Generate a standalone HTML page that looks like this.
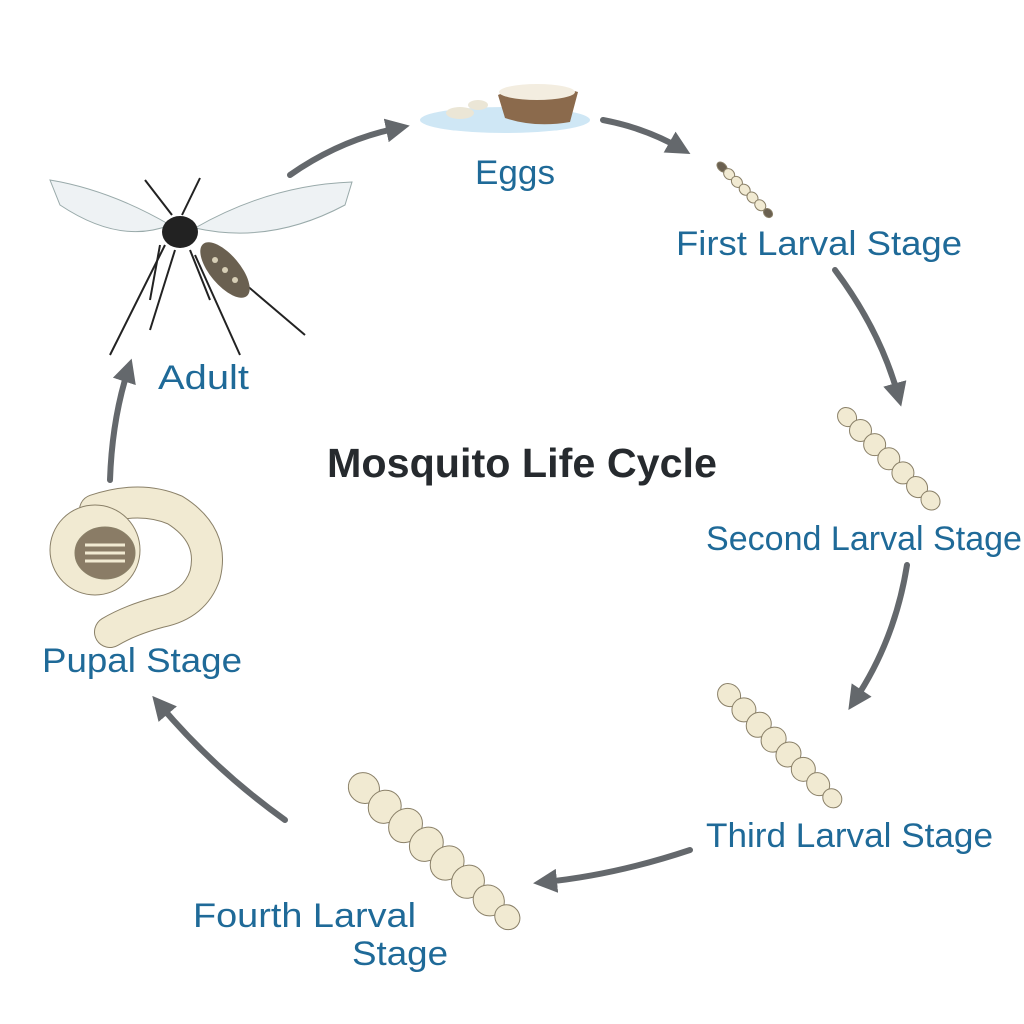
<!DOCTYPE html>
<html><head><meta charset="utf-8"><style>
html,body{margin:0;padding:0;background:#fff;}
svg{display:block}
.l{font-family:"Liberation Sans",sans-serif;fill:#1f6a98;font-size:34px;}
.t{font-family:"Liberation Sans",sans-serif;fill:#262a2e;font-size:41px;font-weight:bold;}
</style></head><body>
<svg width="1024" height="1024" viewBox="0 0 1024 1024" xmlns="http://www.w3.org/2000/svg">
<defs>
<marker id="ah" markerWidth="4" markerHeight="4" refX="2" refY="2" orient="auto" markerUnits="strokeWidth">
<path d="M0,0 L4,2 L0,4 Z" fill="#64686c"/></marker>
</defs>
<g fill="none" stroke="#64686c" stroke-width="6" stroke-linecap="round" marker-end="url(#ah)">
<path d="M290,175 Q340,140 398,128"/>
<path d="M603,120 Q645,128 680,148"/>
<path d="M835,270 Q880,330 898,395"/>
<path d="M907,565 Q895,640 855,700"/>
<path d="M690,850 Q615,875 545,882"/>
<path d="M285,820 Q215,770 160,705"/>
<path d="M110,480 Q112,420 128,370"/>
</g>
<ellipse cx="505" cy="120" rx="85" ry="13" fill="#cfe7f5"/>
<path d="M498,95 Q535,78 578,92 L570,122 Q535,128 505,118 Z" fill="#8b6a4c"/>
<ellipse cx="537" cy="92" rx="38" ry="8" fill="#f3ede0"/>
<ellipse cx="460" cy="113" rx="14" ry="6" fill="#ebe6d6"/>
<ellipse cx="478" cy="105" rx="10" ry="5" fill="#ebe6d6"/>
<g fill="#f1ead2" stroke="#8a8068" stroke-width="1">
<g transform="translate(715,160) rotate(45)">
<ellipse cx="10" cy="0" rx="6" ry="4" fill="#6a6050"/><ellipse cx="20" cy="0" rx="6" ry="5"/><ellipse cx="31" cy="0" rx="6" ry="5"/><ellipse cx="42" cy="0" rx="6" ry="5"/><ellipse cx="53" cy="0" rx="6" ry="5"/><ellipse cx="64" cy="0" rx="6" ry="5"/><ellipse cx="75" cy="0" rx="5" ry="4" fill="#6a6050"/></g>
<g transform="translate(840,410) rotate(45)">
<ellipse cx="10" cy="0" rx="10" ry="9"/><ellipse cx="29" cy="0" rx="11" ry="11"/><ellipse cx="49" cy="0" rx="11" ry="11"/><ellipse cx="69" cy="0" rx="11" ry="11"/><ellipse cx="89" cy="0" rx="11" ry="11"/><ellipse cx="109" cy="0" rx="11" ry="10"/><ellipse cx="128" cy="0" rx="10" ry="9"/></g>
<g transform="translate(722,688) rotate(45)">
<ellipse cx="10" cy="0" rx="12" ry="11"/><ellipse cx="31" cy="0" rx="12" ry="12"/><ellipse cx="52" cy="0" rx="12" ry="13"/><ellipse cx="73" cy="0" rx="12" ry="13"/><ellipse cx="94" cy="0" rx="12" ry="13"/><ellipse cx="115" cy="0" rx="12" ry="12"/><ellipse cx="136" cy="0" rx="12" ry="11"/><ellipse cx="156" cy="0" rx="10" ry="9"/></g>
<g transform="translate(355,780) rotate(42)">
<ellipse cx="12" cy="0" rx="16" ry="15"/><ellipse cx="40" cy="0" rx="16" ry="17"/><ellipse cx="68" cy="0" rx="16" ry="18"/><ellipse cx="96" cy="0" rx="16" ry="18"/><ellipse cx="124" cy="0" rx="16" ry="18"/><ellipse cx="152" cy="0" rx="16" ry="17"/><ellipse cx="180" cy="0" rx="16" ry="15"/><ellipse cx="205" cy="0" rx="13" ry="12"/></g>
<path d="M95,510 Q140,495 175,510 Q215,535 205,575 Q195,605 160,612 Q130,620 110,632" fill="none" stroke="#8a8068" stroke-width="32" stroke-linecap="round"/>
<path d="M95,510 Q140,495 175,510 Q215,535 205,575 Q195,605 160,612 Q130,620 110,632" fill="none" stroke="#f1ead2" stroke-width="30" stroke-linecap="round"/>
<ellipse cx="95" cy="550" rx="45" ry="45" fill="#f1ead2" stroke="#8a8068"/>
<ellipse cx="105" cy="553" rx="30" ry="26" fill="#8a7c66"/>
<g stroke="#f1ead2" stroke-width="3"><line x1="85" y1="545" x2="125" y2="545"/><line x1="85" y1="553" x2="125" y2="553"/><line x1="85" y1="561" x2="125" y2="561"/></g>
</g>
<g stroke="#222" stroke-width="2" fill="none">
<path d="M165,245 L110,355"/><path d="M175,250 L150,330"/><path d="M195,255 L240,355"/><path d="M205,250 L305,335"/><path d="M172,215 L145,180"/><path d="M182,215 L200,178"/><path d="M160,245 L150,300"/><path d="M190,250 L210,300"/>
</g>
<path d="M50,180 Q110,190 170,225 Q120,245 60,205 Z" fill="#eef2f4" stroke="#9aa" stroke-width="1"/>
<path d="M352,182 Q270,185 195,228 Q270,245 345,205 Z" fill="#eef2f4" stroke="#9aa" stroke-width="1"/>
<ellipse cx="180" cy="232" rx="18" ry="16" fill="#222"/>
<ellipse cx="225" cy="270" rx="15" ry="34" transform="rotate(-40 225 270)" fill="#6a6050"/>
<g fill="#d8cfb6"><circle cx="215" cy="260" r="3"/><circle cx="225" cy="270" r="3"/><circle cx="235" cy="280" r="3"/></g>
<text class="l" x="475" y="184" textLength="80" lengthAdjust="spacingAndGlyphs">Eggs</text>
<text class="l" x="676" y="255" textLength="286" lengthAdjust="spacingAndGlyphs">First Larval Stage</text>
<text class="l" x="706" y="550" textLength="316" lengthAdjust="spacingAndGlyphs">Second Larval Stage</text>
<text class="l" x="706" y="847" textLength="287" lengthAdjust="spacingAndGlyphs">Third Larval Stage</text>
<text class="l" x="193" y="927" textLength="223" lengthAdjust="spacingAndGlyphs">Fourth Larval</text>
<text class="l" x="352" y="965" textLength="96" lengthAdjust="spacingAndGlyphs">Stage</text>
<text class="l" x="42" y="672" textLength="200" lengthAdjust="spacingAndGlyphs">Pupal Stage</text>
<text class="l" x="158" y="389" textLength="91" lengthAdjust="spacingAndGlyphs">Adult</text>
<text class="t" x="327" y="477" textLength="390" lengthAdjust="spacingAndGlyphs">Mosquito Life Cycle</text>
</svg>
</body></html>
